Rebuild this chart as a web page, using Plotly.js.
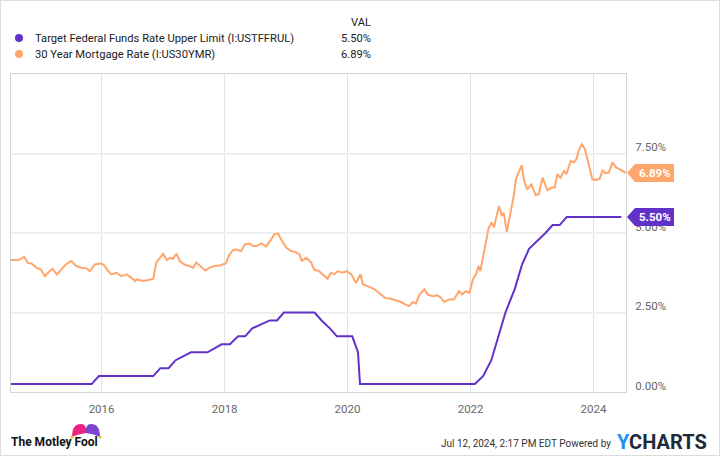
<!DOCTYPE html>
<html>
<head>
<meta charset="utf-8">
<script src="https://cdn.plot.ly/plotly-3.0.1.min.js"></script>
<style>
  html, body { margin: 0; padding: 0; background: #fff; }
  #wrap { position: relative; width: 720px; height: 456px; }
  #chart { width: 720px; height: 456px; }
  #frame { position: absolute; left: 0; top: 0; width: 720px; height: 456px;
           box-sizing: border-box; border: 1px solid #dcdcdc; pointer-events: none; }
</style>
</head>
<body>
<div id="wrap">
  <div id="chart"></div>
  <div id="frame"></div>
</div>
<script>
// Target Federal Funds Rate Upper Limit (I:USTFFRUL)
const fedDates = ['2014-07-12', '2015-11-03', '2015-12-16', '2016-11-03', '2016-12-15', '2017-02-02',
  '2017-03-16', '2017-06-15', '2017-09-21', '2017-12-14', '2018-02-01', '2018-03-22', '2018-05-03',
  '2018-06-14', '2018-09-26', '2018-11-08', '2018-12-19', '2019-06-19', '2019-07-31', '2019-09-18',
  '2019-10-30', '2020-01-29', '2020-03-03', '2020-03-15', '2022-01-26', '2022-03-16', '2022-05-04',
  '2022-06-15', '2022-07-27', '2022-09-21', '2022-11-02', '2022-12-14', '2023-02-01', '2023-03-22',
  '2023-05-03', '2023-06-14', '2023-07-26', '2024-06-14'];
const fedRates = [0.25, 0.25, 0.50, 0.50, 0.75, 0.75,
  1.00, 1.25, 1.25, 1.50, 1.50, 1.75, 1.75,
  2.00, 2.25, 2.25, 2.50, 2.50, 2.25, 2.00,
  1.75, 1.75, 1.25, 0.25, 0.25, 0.50, 1.00,
  1.75, 2.50, 3.25, 4.00, 4.50, 4.75, 5.00,
  5.25, 5.25, 5.50, 5.50];

// 30 Year Mortgage Rate (I:US30YMR)
const mortDates = ['2014-07-12', '2014-08-26', '2014-09-28', '2014-10-20', '2014-11-11', '2014-12-10',
  '2015-01-05', '2015-01-30', '2015-02-17', '2015-03-15', '2015-04-10', '2015-05-09', '2015-06-07',
  '2015-07-06', '2015-08-04', '2015-09-03', '2015-10-05', '2015-10-24', '2015-11-22', '2015-12-28',
  '2016-01-12', '2016-02-10', '2016-02-28', '2016-03-29', '2016-04-27', '2016-05-30', '2016-06-28',
  '2016-07-20', '2016-07-27', '2016-09-05', '2016-10-04', '2016-11-03', '2016-11-21', '2016-12-13',
  '2017-01-01', '2017-01-23', '2017-02-10', '2017-02-28', '2017-03-21', '2017-04-09', '2017-05-08',
  '2017-06-06', '2017-06-28', '2017-07-16', '2017-08-14', '2017-09-09', '2017-10-04', '2017-11-03',
  '2017-12-02', '2018-01-08', '2018-01-30', '2018-02-20', '2018-03-10', '2018-04-09', '2018-05-01',
  '2018-05-30', '2018-06-17', '2018-07-09', '2018-08-07', '2018-09-05', '2018-10-04', '2018-10-23',
  '2018-11-14', '2018-12-02', '2019-01-01', '2019-01-30', '2019-02-27', '2019-03-21', '2019-04-05',
  '2019-05-01', '2019-05-30', '2019-06-17', '2019-07-16', '2019-08-07', '2019-09-05', '2019-09-23',
  '2019-10-15', '2019-11-03', '2019-12-02', '2019-12-27', '2020-01-23', '2020-02-20', '2020-03-18',
  '2020-04-01', '2020-04-30', '2020-06-09', '2020-07-15', '2020-08-10', '2020-09-15', '2020-10-14',
  '2020-11-13', '2020-12-12', '2021-01-01', '2021-01-23', '2021-02-10', '2021-03-04', '2021-04-02',
  '2021-04-21', '2021-05-20', '2021-06-18', '2021-07-10', '2021-07-28', '2021-08-26', '2021-09-24',
  '2021-10-24', '2021-11-11', '2021-12-03', '2021-12-25', '2022-01-16', '2022-02-03', '2022-02-17',
  '2022-02-28', '2022-03-15', '2022-03-30', '2022-04-17', '2022-05-05', '2022-05-20', '2022-05-31',
  '2022-06-18', '2022-07-06', '2022-07-17', '2022-08-04', '2022-08-26', '2022-09-14', '2022-09-28',
  '2022-10-20', '2022-10-31', '2022-11-15', '2022-12-03', '2022-12-28', '2023-01-23', '2023-02-10',
  '2023-03-04', '2023-04-02', '2023-04-28', '2023-05-16', '2023-05-31', '2023-06-18', '2023-07-10',
  '2023-07-24', '2023-08-19', '2023-09-06', '2023-09-21', '2023-10-09', '2023-10-24', '2023-11-11',
  '2023-11-29', '2023-12-25', '2024-01-16', '2024-02-07', '2024-02-25', '2024-03-10', '2024-04-01',
  '2024-04-23', '2024-05-15', '2024-06-10', '2024-06-28', '2024-07-11'];
const mortRates = [4.15, 4.15, 4.25, 4.06, 4.04, 3.91,
  3.85, 3.64, 3.75, 3.88, 3.70, 3.85, 4.03,
  4.12, 3.96, 3.91, 3.88, 3.80, 4.01, 4.04,
  4.01, 3.80, 3.70, 3.75, 3.64, 3.70, 3.59,
  3.49, 3.54, 3.49, 3.52, 3.56, 4.07, 4.22,
  4.35, 4.15, 4.22, 4.19, 4.35, 4.12, 4.01,
  3.96, 3.91, 4.07, 3.94, 3.82, 3.91, 3.96,
  3.98, 4.04, 4.33, 4.46, 4.48, 4.43, 4.64,
  4.67, 4.59, 4.59, 4.67, 4.57, 4.80, 4.96,
  4.99, 4.80, 4.54, 4.43, 4.40, 4.33, 4.12,
  4.22, 4.07, 3.85, 3.80, 3.70, 3.56, 3.75,
  3.70, 3.80, 3.75, 3.80, 3.70, 3.43, 3.70,
  3.38, 3.33, 3.23, 3.07, 2.96, 2.93, 2.89,
  2.83, 2.75, 2.70, 2.83, 2.78, 3.07, 3.23,
  3.07, 3.01, 3.04, 2.96, 2.83, 2.91, 2.91,
  3.17, 3.07, 3.17, 3.12, 3.56, 3.70, 3.96,
  3.80, 4.22, 4.69, 5.14, 5.33, 5.17, 5.43,
  5.85, 5.53, 5.64, 5.04, 5.59, 6.16, 6.71,
  7.01, 7.13, 6.64, 6.37, 6.53, 6.19, 6.22,
  6.74, 6.35, 6.43, 6.43, 6.85, 6.74, 6.95,
  6.85, 7.27, 7.22, 7.32, 7.64, 7.79, 7.64,
  7.22, 6.69, 6.67, 6.71, 6.98, 6.88, 6.90,
  7.22, 7.06, 6.98, 6.95, 6.89];

const seriesNames = ['Target Federal Funds Rate Upper Limit (I:USTFFRUL)', '30 Year Mortgage Rate (I:US30YMR)'];
const seriesColors = ['#6232c8', '#ffa66c'];
const yTickVals = [0, 2.5, 5, 7.5];
const yTickText = ['0.00%', '2.50%', '5.00%', '7.50%'];

const FONT = 'Roboto, "Liberation Sans", sans-serif';

// plot area in pixels: x 11..626, y 74..392
const L = 11, T = 74, W = 615, H = 318;
const px = x => (x - L) / W;
const py = y => (T + H - y) / H;

const build_chart = () => {
  const chart = document.querySelector('#chart');
  const lastVals = [fedRates[fedRates.length - 1], mortRates[mortRates.length - 1]];

  const data = [
    { x: fedDates, y: fedRates, type: 'scatter', mode: 'lines', name: seriesNames[0],
      line: { color: seriesColors[0], width: 2 }, hoverinfo: 'skip' },
    { x: mortDates, y: mortRates, type: 'scatter', mode: 'lines', name: seriesNames[1],
      line: { color: seriesColors[1], width: 2 }, hoverinfo: 'skip' }
  ];

  const shapes = [];
  const annotations = [];

  // legend block
  annotations.push({ xref: 'paper', yref: 'paper', x: px(373), y: py(23), xanchor: 'right', yanchor: 'middle',
    text: 'VAL', showarrow: false, font: { family: FONT, size: 11.2, color: '#222' } });
  [38, 54].forEach((yy, i) => {
    shapes.push({ type: 'circle', xref: 'paper', yref: 'paper', xsizemode: 'pixel', ysizemode: 'pixel',
      xanchor: px(19), yanchor: py(yy), x0: -4, x1: 4, y0: -4, y1: 4,
      fillcolor: seriesColors[i], line: { width: 0 } });
    annotations.push({ xref: 'paper', yref: 'paper', x: px(33), y: py(yy), xanchor: 'left', yanchor: 'middle',
      text: seriesNames[i], showarrow: false, font: { family: FONT, size: 11.2, color: '#222' } });
    annotations.push({ xref: 'paper', yref: 'paper', x: px(373), y: py(yy), xanchor: 'right', yanchor: 'middle',
      text: lastVals[i].toFixed(2) + '%', showarrow: false, font: { family: FONT, size: 11.2, color: '#222' } });
  });

  // value tags at the right edge
  lastVals.forEach((v, i) => {
    shapes.push({ type: 'path', xref: 'paper', yref: 'y', xsizemode: 'pixel', ysizemode: 'pixel',
      xanchor: 1, yanchor: v, path: 'M1,0 L9,9 L48,9 L48,-9 L9,-9 Z',
      fillcolor: seriesColors[i], line: { width: 0 }, layer: 'above' });
    annotations.push({ xref: 'paper', yref: 'y', x: 1, y: v, xshift: 29, xanchor: 'center', yanchor: 'middle',
      text: '<b>' + v.toFixed(2) + '%</b>', showarrow: false,
      font: { family: FONT, size: 11.5, color: '#fff' } });
  });

  // footer: Motley Fool jester hat + wordmark
  const hat = { xref: 'paper', yref: 'paper', xsizemode: 'pixel', ysizemode: 'pixel',
    xanchor: px(86), yanchor: py(437), line: { width: 0 } };
  shapes.push(Object.assign({ type: 'path', path: 'M-14,0 Q-14,13 -5,13 Q1,13 0,4 Q-8,3 -14,0 Z',
    fillcolor: '#ea2480' }, hat));
  shapes.push(Object.assign({ type: 'path', path: 'M14,0 Q14,13 5,13 Q-1,13 0,4 Q8,3 14,0 Z',
    fillcolor: '#7c46d0' }, hat));
  [-14, 14].forEach(dx => {
    shapes.push(Object.assign({ type: 'circle', x0: dx - 1.6, x1: dx + 1.6, y0: -1.6, y1: 1.6,
      fillcolor: '#f6b82a' }, hat));
  });
  annotations.push({ xref: 'paper', yref: 'paper', x: px(9), y: py(442), xanchor: 'left', yanchor: 'middle',
    text: '<b>The Motley Fool</b>', showarrow: false, font: { family: FONT, size: 12, color: '#111' } });

  // timestamp + YCharts wordmark
  annotations.push({ xref: 'paper', yref: 'paper', x: px(613), y: py(443), xanchor: 'right', yanchor: 'middle',
    text: 'Jul 12, 2024, 2:17 PM EDT Powered by', showarrow: false,
    font: { family: FONT, size: 10, color: '#333' } });
  annotations.push({ xref: 'paper', yref: 'paper', x: px(615), y: py(442), xanchor: 'left', yanchor: 'middle',
    text: '<b><span style="color:#1e8ef0">Y</span>CHARTS</b>', showarrow: false,
    font: { family: FONT, size: 20, color: '#1c2a3a' } });

  const layout = {
    width: 720,
    height: 456,
    margin: { l: L, r: 720 - L - W, t: T, b: 456 - T - H, pad: 0 },
    paper_bgcolor: '#fff',
    plot_bgcolor: '#fff',
    showlegend: false,
    xaxis: {
      type: 'date',
      range: ['2014-07-12', '2024-07-12'],
      tick0: '2016-01-01',
      dtick: 'M24',
      tickformat: '%Y',
      showgrid: true,
      gridcolor: '#e2e2e2',
      gridwidth: 1,
      zeroline: false,
      showline: true,
      mirror: true,
      linecolor: '#d4d4d4',
      linewidth: 1,
      ticks: '',
      ticklabelstandoff: 6,
      tickfont: { family: FONT, size: 11.5, color: '#666' }
    },
    yaxis: {
      side: 'right',
      range: [0, 10],
      tickvals: yTickVals,
      ticktext: yTickText,
      ticklabelposition: 'outside top',
      ticklabelstandoff: 6,
      ticklabelshift: 2,
      showgrid: true,
      gridcolor: '#eeeeee',
      gridwidth: 2,
      zeroline: false,
      showline: true,
      mirror: true,
      linecolor: '#d4d4d4',
      linewidth: 1,
      ticks: '',
      tickfont: { family: FONT, size: 11.5, color: '#666' }
    },
    shapes: shapes,
    annotations: annotations
  };

  Plotly.newPlot(chart, data, layout, { displayModeBar: false, staticPlot: true });
};

document.addEventListener('DOMContentLoaded', () => {
  build_chart();
});
</script>
</body>
</html>
